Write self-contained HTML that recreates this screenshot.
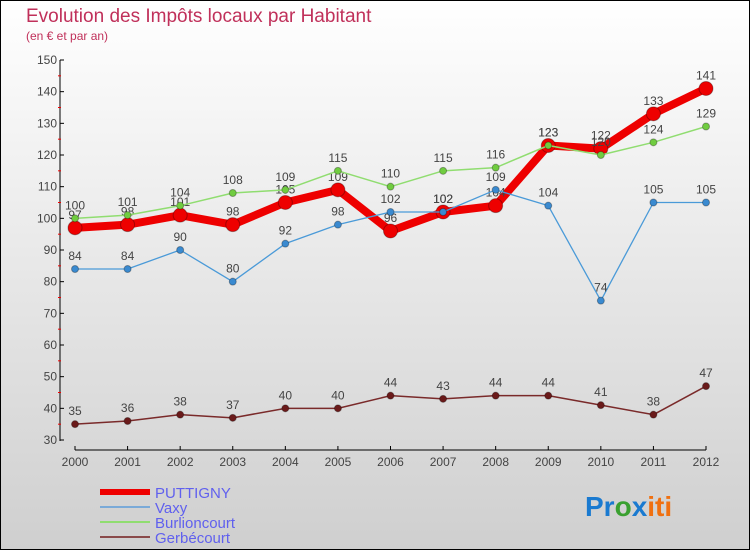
<!DOCTYPE html>
<html><head><meta charset="utf-8"><style>
body{margin:0;width:750px;height:550px;overflow:hidden;font-family:"Liberation Sans",sans-serif}
svg{display:block}
</style></head><body>
<svg id="c" width="750" height="550" xmlns="http://www.w3.org/2000/svg">
<defs><linearGradient id="bg" x1="0" y1="0" x2="0" y2="1"><stop offset="0" stop-color="#ffffff"/><stop offset="1" stop-color="#cfcfcf"/></linearGradient></defs>
<rect x="0.5" y="0.5" width="749" height="549" fill="url(#bg)" stroke="#000"/>
<text x="26" y="22" font-size="19" fill="#c0305a">Evolution des Impôts locaux par Habitant</text>
<text x="26" y="40" font-size="12" fill="#c0305a">(en € et par an)</text>
<g id="axes"></g><g id="series"></g><g id="legend"></g>
<text x="585" y="516" font-size="28" font-weight="bold"><tspan fill="#1a7ad0">Pr</tspan><tspan fill="#3aa030">o</tspan><tspan fill="#1a7ad0">x</tspan><tspan fill="#f07010">iti</tspan></text>
</svg>
<script>
const years=[2000,2001,2002,2003,2004,2005,2006,2007,2008,2009,2010,2011,2012];
const yTicks=[30,40,50,60,70,80,90,100,110,120,130,140,150];
const puttigny=[97,98,101,98,105,109,96,102,104,123,122,133,141];
const vaxy=[84,84,90,80,92,98,102,102,109,104,74,105,105];
const burlioncourt=[100,101,104,108,109,115,110,115,116,123,120,124,129];
const gerbecourt=[35,36,38,37,40,40,44,43,44,44,41,38,47];
const NS="http://www.w3.org/2000/svg";
const X=i=>75+i*(706-75)/(years.length-1);
const Y=v=>440-(v-30)*(380/120);
function mk(t,a,p){const e=document.createElementNS(NS,t);for(const k in a)e.setAttribute(k,a[k]);p.appendChild(e);return e;}
const ax=document.getElementById('axes');
let l=mk('line',{x1:60,y1:60,x2:60,y2:441,stroke:'#000'},ax);


l=mk('line',{x1:75,y1:450,x2:706,y2:450,stroke:'#000'},ax);


yTicks.forEach(v=>{
 mk('line',{x1:60,y1:Y(v),x2:64,y2:Y(v),stroke:'#000'},ax);
 if(v<150) mk('line',{x1:58,y1:Y(v+5),x2:61,y2:Y(v+5),stroke:'#e00'},ax);
 const t=mk('text',{x:57,y:Y(v)+4,'font-size':12,fill:'#444','text-anchor':'end'},ax);t.textContent=v;
 
 
});
years.forEach((y,i)=>{
 mk('line',{x1:X(i),y1:446,x2:X(i),y2:450,stroke:'#000'},ax);
 const t=mk('text',{x:X(i),y:466,'font-size':12,fill:'#444','text-anchor':'middle'},ax);t.textContent=y;
 
 
});
const sg=document.getElementById('series');
function series(data,color,w,r,name,fill){
 const g=mk('g',{},sg);
 
 
 const p=mk('polyline',{points:data.map((v,i)=>X(i)+','+Y(v)).join(' '),fill:'none',stroke:color,'stroke-width':w,'stroke-linejoin':'round'},g);
 
 
 data.forEach((v,i)=>{
  const c=mk('circle',{cx:X(i),cy:Y(v),r:r,fill:fill,stroke:'rgba(0,0,0,0.3)','stroke-width':1},g);
  
  
  const t=mk('text',{x:X(i),y:Y(v)-9,'font-size':12,fill:'#444','text-anchor':'middle'},g);t.textContent=v;
  
  
 });
}
series(gerbecourt,'#7a2a2a',1.5,3.5,'gerbecourt','#6a1a1a');
series(puttigny,'#ee0000',8,7,'puttigny','#ee0000');
series(vaxy,'#4a9ad8',1.3,3.5,'vaxy','#3a8ad0');
series(burlioncourt,'#90dd70',1.5,3.5,'burlioncourt','#70cc40');
const lg=document.getElementById('legend');
[['PUTTIGNY','#ee0000',6],['Vaxy','#7aaad8',2],['Burlioncourt','#90dd70',2],['Gerbécourt','#8a4a4a',2]].forEach((d,i)=>{
 const y=492+i*15;
 const ln=mk('line',{x1:100,y1:y,x2:150,y2:y,stroke:d[1],'stroke-width':d[2]},lg);
 
 
 const t=mk('text',{x:155,y:y+6,'font-size':15,fill:'#6060ee'},lg);t.textContent=d[0];
 
 
});
</script>
</body></html>
